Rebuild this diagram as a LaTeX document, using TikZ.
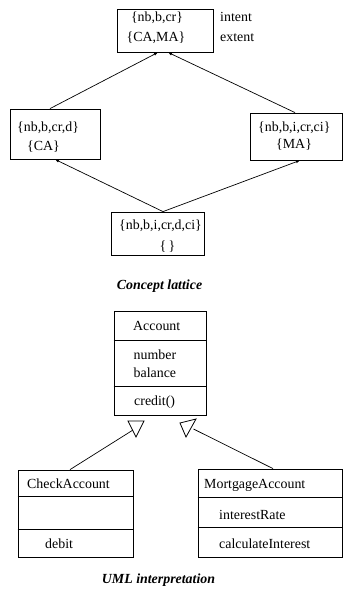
\documentclass[tikz,border=0pt]{standalone}
\usepackage{fontspec}
\setmainfont{Liberation Serif}
\usetikzlibrary{arrows.meta,calc}
\begin{document}
\begin{tikzpicture}[x=1pt,y=-1pt,
  box/.style={draw,line width=0.8pt,inner sep=0pt,minimum width=#1},
  txt/.style={anchor=base west,inner sep=0pt,font=\fontsize{13.9}{16}\selectfont},
  ctxt/.style={anchor=base,inner sep=0pt,font=\fontsize{13.9}{16}\selectfont},
  captxt/.style={anchor=base,inner sep=0pt,font=\fontsize{13.9}{16}\selectfont\bfseries\itshape},
  arr/.style={line width=0.7pt,-{Latex[length=4pt,width=3pt]}},
  conn/.style={line width=0.7pt},
  tri/.style={line width=0.8pt},
  sep/.style={line width=0.8pt}]
\useasboundingbox (0,0) rectangle (343,596);
% concept lattice
\node[box=96pt,minimum height=43pt] (top) at (165,30.5) {};
\node[box=90pt,minimum height=50pt] (left) at (55,134) {};
\node[box=92pt,minimum height=47pt] (right) at (296,136.5) {};
\node[box=93pt,minimum height=43pt] (bot) at (157.5,233.5) {};
\node[ctxt] (t1) at (157,22) {\{nb,b,cr\}};
\node[ctxt] (t2) at (156,42) {\{CA,MA\}};
\node[txt] (intent) at (220,22) {intent};
\node[txt] (extent) at (220,42) {extent};
\node[txt] (l1) at (17,132) {\{nb,b,cr,d\}};
\node[txt] (l2) at (27,150) {\{CA\}};
\node[txt] (r1) at (258,132) {\{nb,b,i,cr,ci\}};
\node[txt] (r2) at (276,149) {\{MA\}};
\node[txt] (b1) at (119,229) {\{nb,b,i,cr,d,ci\}};
\node[ctxt] (b2) at (167.5,250) {\{\,\}};
\draw[arr] ([xshift=-5pt]left.north) -- ([xshift=-7pt]top.south);
\draw[arr] ([xshift=-1pt]right.north) -- ([xshift=3pt]top.south);
\draw[arr] ([xshift=5.5pt]bot.north) -- (left.south);
\draw[arr] ([xshift=5.5pt]bot.north) -- ([xshift=4pt]right.south);
\node[captxt] (cap1) at (159.5,289) {Concept lattice};
% UML
\node[box=92pt,minimum height=104pt] (acc) at (160,363) {};
\draw[sep] (acc.west |- 0,340) -- (acc.east |- 0,340);
\draw[sep] (acc.west |- 0,386) -- (acc.east |- 0,386);
\node[txt] (accn) at (133,330) {Account};
\node[txt] (num) at (133.5,359) {number};
\node[txt] (bal) at (133.5,377) {balance};
\node[txt] (cred) at (134,405) {credit()};
\node[box=115pt,minimum height=87pt] (chk) at (75.5,513.5) {};
\draw[sep] (chk.west |- 0,496) -- (chk.east |- 0,496);
\draw[sep] (chk.west |- 0,529) -- (chk.east |- 0,529);
\node[txt] (chkn) at (27,488) {CheckAccount};
\node[txt] (deb) at (45,548) {debit};
\node[box=144pt,minimum height=88pt] (mort) at (270,513) {};
\draw[sep] (mort.west |- 0,497) -- (mort.east |- 0,497);
\draw[sep] (mort.west |- 0,527.5) -- (mort.east |- 0,527.5);
\node[txt] (mortn) at (204,488) {MortgageAccount};
\node[txt] (ir) at (219,519) {interestRate};
\node[txt] (ci) at (219,548) {calculateInterest};
\coordinate (ta1) at (128,421);
\coordinate (ta2) at (144,421);
\coordinate (ta3) at (136,437);
\coordinate (tb1) at (180,423);
\coordinate (tb2) at (196,419);
\coordinate (tb3) at (186,437);
\draw[tri] (ta1) -- (ta2) -- (ta3) -- cycle;
\draw[tri] (tb1) -- (tb2) -- (tb3) -- cycle;
\coordinate (le) at (133,430);
\coordinate (re) at (193.5,429);
\draw[conn] ([xshift=-5.5pt]chk.north) -- (le);
\draw[conn] ([xshift=3pt]mort.north) -- (re);
\node[captxt] (cap2) at (158.5,583) {UML interpretation};
\end{tikzpicture}
\end{document}
